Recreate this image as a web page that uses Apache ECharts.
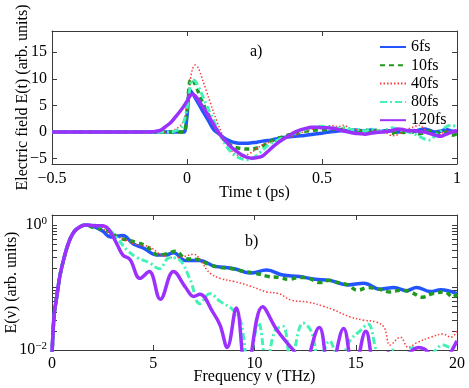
<!DOCTYPE html>
<html>
<head>
<meta charset="utf-8">
<script src="https://cdn.jsdelivr.net/npm/echarts@6/dist/echarts.min.js"></script>
<style>
  html, body { margin: 0; padding: 0; background: #fff; }
  #chart { width: 469px; height: 388px; }
</style>
</head>
<body>
<div id="chart"></div>
<script>
// ---- top panel: E(t), time in ps ----
const timePs = [-0.5, -0.3, -0.15, -0.1, -0.08, -0.06, -0.04, -0.02, -0.01, 0,
  0.01, 0.02, 0.03, 0.04, 0.05, 0.06, 0.08, 0.1, 0.12, 0.14, 0.16, 0.18, 0.2,
  0.22, 0.24, 0.26, 0.28, 0.3, 0.32, 0.34, 0.36, 0.38, 0.4, 0.42, 0.44, 0.46,
  0.48, 0.5, 0.52, 0.54, 0.56, 0.58, 0.6, 0.62, 0.64, 0.66, 0.68, 0.7, 0.72,
  0.74, 0.76, 0.78, 0.8, 0.82, 0.84, 0.86, 0.88, 0.9, 0.92, 0.94, 0.96, 0.98, 1.0];

const field6fs = [0, 0, 0, 0, 0, 0, 0, 0, 0, 3,
  7.9, 7.3, 6.5, 5.6, 4.7, 3.8, 2.1, 0.4, -0.4, -1.2, -1.7, -2.0, -2.1,
  -2.1, -2.0, -1.9, -1.7, -1.6, -1.4, -1.2, -1.0, -0.9, -0.8, -0.7, -0.6, -0.45,
  -0.3, -0.2, -0.05, 0.1, 0.2, 0.3, 0.2, 0.4, 0.3, 0.2, 0.4, 0.3, 0.1,
  0.3, 0.2, 0.0, 0.2, 0.3, 0.1, 0.4, 0.6, 0.3, 0.0, 0.2, 0.5, 0.2, 0.0];

const field10fs = [0, 0, 0, 0, 0, 0, 0, 0, 0, 4,
  9.5, 10.0, 9.0, 7.8, 6.5, 5.3, 3.2, 1.2, -0.4, -1.6, -2.4, -2.9, -3.1,
  -3.2, -3.2, -3.0, -2.6, -2.0, -1.5, -1.1, -0.8, -0.5, -0.3, 0.0, 0.2, 0.3,
  0.4, 0.4, 0.5, 0.6, 0.4, 0.6, 0.3, 0.5, 0.2, 0.4, 0.1, 0.3, 0.0,
  0.2, -0.2, 0.1, -0.1, 0.2, 0.0, -0.3, -0.1, 0.2, 0.0, -0.4, 0.0, -0.6, -0.3];

const field40fs = [0, 0, 0, 0, 0, 0.2, 0.6, 1.5, 2.5, 5,
  9, 11.8, 12.6, 12.2, 11.0, 9.5, 6.5, 3.5, 0.8, -1.5, -3.2, -4.2, -4.5,
  -4.3, -3.8, -3.0, -2.4, -2.0, -1.8, -1.6, -1.3, -1.0, -0.6, -0.2, 0.2, 0.5,
  0.7, 0.9, 1.1, 1.2, 1.0, 1.3, 0.8, 0.5, 0.3, -0.6, -0.3, 0.4, 0.2,
  -0.2, -0.7, -0.5, 0.2, 0.6, 1.0, 1.3, 0.5, -0.3, -0.8, -0.4, 0.2, 0.1, 0.0];

const field80fs = [0, 0, 0, 0, 0, 0, 0.3, 1.0, 2.2, 4.5,
  8, 9.8, 9.6, 8.8, 7.7, 6.5, 4.2, 2.0, -0.3, -2.2, -3.6, -4.5, -5.0,
  -5.2, -5.0, -4.3, -3.4, -2.5, -1.9, -1.4, -1.0, -0.6, -0.2, 0.2, 0.5, 0.8,
  1.0, 1.1, 1.0, 0.8, 0.7, 0.9, 0.6, 0.4, 0.5, 0.2, 0.6, 0.4, 0.1,
  0.5, 0.8, 0.4, 0.3, 0.0, -0.3, -0.8, -1.3, -1.5, -0.6, 0.2, 1.0, 1.3, 0.9];

const field120fs = [0, 0, 0, 0.3, 1.0, 1.8, 3.0, 4.3, 5.0, 5.8,
  6.7, 7.1, 6.8, 6.2, 5.4, 4.6, 3.0, 1.3, -0.3, -1.5, -2.6, -3.5, -4.2,
  -4.7, -4.9, -4.8, -4.5, -3.6, -2.7, -1.9, -1.2, -0.6, 0.0, 0.4, 0.7, 0.9,
  0.9, 0.8, 0.8, 0.7, 0.5, 0.2, 0.0, -0.2, -0.3, -0.4, -0.2, -0.1, 0.0,
  0.1, 0.3, 0.6, 0.5, 0.2, 0.3, 0.1, 0.0, -0.3, -0.6, -0.8, -0.4, 0.0, 0.3];

// ---- bottom panel: |E(nu)|, normalised, log scale ----
const freqRise = [0, 0.1, 0.2, 0.3, 0.4, 0.6, 0.8, 1.0, 1.2, 1.5];
const specRise = [0.008, 0.035, 0.06, 0.1, 0.16, 0.3, 0.5, 0.7, 0.85, 0.98];

const freq6fs = [1.7, 2.1, 2.5, 2.9, 3.5, 4.0, 4.5, 5.2, 5.6, 6.0, 6.6, 7.3, 8.0, 8.5,
  9.0, 9.8, 10.6, 11.4, 12.2, 13.0, 13.7, 14.6, 15.4, 16.2, 16.9, 17.5, 18.0, 18.7, 19.2, 20];
const spec6fs = [1.0, 0.93, 0.8, 0.64, 0.68, 0.5, 0.43, 0.33, 0.33, 0.36, 0.27, 0.27, 0.22, 0.21,
  0.2, 0.17, 0.19, 0.158, 0.15, 0.135, 0.13, 0.11, 0.117, 0.094, 0.1, 0.089, 0.1, 0.086, 0.092, 0.08];

const freq10fs = [1.7, 2.0, 2.5, 2.9, 3.3, 3.7, 4.2, 4.6, 5.3, 5.7, 6.1, 6.6, 7.2, 7.8, 8.3,
  8.9, 9.5, 10.0, 10.7, 11.2, 11.7, 12.2, 12.7, 13.2, 13.7, 14.1, 14.6, 15.1, 15.6, 16.1,
  16.7, 17.2, 17.7, 18.3, 18.8, 19.4, 19.8, 20];
const spec10fs = [1.0, 0.92, 0.85, 0.77, 0.62, 0.58, 0.52, 0.47, 0.33, 0.35, 0.38, 0.29, 0.28, 0.23, 0.21,
  0.2, 0.18, 0.17, 0.15, 0.145, 0.135, 0.145, 0.14, 0.12, 0.13, 0.12, 0.11, 0.09, 0.1, 0.095,
  0.085, 0.09, 0.085, 0.07, 0.08, 0.085, 0.07, 0.08];

const freq40fs = [1.7, 2.2, 2.9, 3.5, 4.2, 4.8, 5.5, 6.2, 7.0, 7.4, 7.8, 8.3, 9.0, 9.8,
  10.6, 11.2, 11.8, 12.7, 13.4, 13.9, 14.7, 15.4, 16.0, 16.4, 16.7, 17.2, 17.6, 18.0,
  18.7, 19.3, 19.7, 20];
const spec40fs = [0.98, 1.0, 0.7, 0.6, 0.48, 0.45, 0.32, 0.3, 0.34, 0.25, 0.17, 0.14, 0.125, 0.105,
  0.085, 0.08, 0.063, 0.058, 0.05, 0.044, 0.034, 0.03, 0.028, 0.023, 0.012, 0.016, 0.011, 0.013,
  0.016, 0.018, 0.016, 0.02];

const freq80fs = [1.7, 2.3, 2.8, 3.2, 3.7, 4.2, 4.8, 5.3, 5.8, 6.2, 6.8, 7.3, 7.8, 8.3,
  8.9, 9.3, 9.7, 10.2, 10.6, 11.0, 11.4, 11.8, 12.4, 12.8, 13.2, 13.7, 14.2, 14.7, 15.2,
  15.6, 16.0, 16.3, 16.8, 17.3, 17.8, 18.3, 18.8, 19.3, 19.7, 20];
const spec80fs = [1.0, 0.97, 0.85, 0.62, 0.4, 0.3, 0.25, 0.2, 0.3, 0.29, 0.14, 0.055, 0.08, 0.06,
  0.045, 0.03, 0.006, 0.027, 0.006, 0.02, 0.024, 0.007, 0.027, 0.02, 0.007, 0.014, 0.006, 0.014, 0.02,
  0.026, 0.01, 0.005, 0.01, 0.006, 0.011, 0.007, 0.009, 0.012, 0.011, 0.011];

const freq120fs = [1.7, 2.0, 2.5, 2.8, 3.2, 3.5, 3.85, 4.35, 4.8, 5.35, 6.0, 6.6, 7.0, 7.3,
  7.95, 8.3, 8.65, 9.1, 9.6, 10.4, 11.1, 11.7, 12.0, 12.3, 13.2, 13.7, 14.4, 14.9, 15.5,
  16.0, 16.6, 17.0, 17.5, 18.1, 18.6, 19.1, 19.6, 20];
const spec120fs = [1.0, 0.98, 0.97, 0.85, 0.5, 0.33, 0.28, 0.14, 0.18, 0.065, 0.18, 0.1, 0.072, 0.078,
  0.04, 0.025, 0.011, 0.047, 0.004, 0.049, 0.021, 0.012, 0.009, 0.004, 0.023, 0.004, 0.022, 0.004, 0.02,
  0.005, 0.009, 0.005, 0.008, 0.011, 0.009, 0.004, 0.008, 0.014];

// ---- axes ----
const fieldTicks = [-5, 0, 5, 10, 15];
const logTickPow = [-2, -1, 0];
const logTickMinor = [2, 3, 4, 5, 6, 7, 8, 9];
const logLabels = [-2, 0];
const specMax = 1.445;

const seriesNames = ['6fs', '10fs', '40fs', '80fs', '120fs'];
const seriesColors = ['#2255ff', '#1f9a1f', '#ff3b3b', '#44f2b8', '#9b30ff'];
const seriesLines = [
  { width: 3.5, type: 'solid' },
  { width: 3.5, type: [5, 4] },
  { width: 1.5, type: [1.5, 2] },
  { width: 3, type: [7, 3, 2, 3] },
  { width: 3.5, type: 'solid' }
];

const axisColor = '#3a3a3a';
const font = '"Liberation Serif", "Times New Roman", serif';

function zip(xs, ys) {
  return xs.map((x, i) => [x, ys[i]]);
}

function minus(v) {
  return v < 0 ? '\u2212' + Math.abs(v) : String(v);
}

// minor ticks of the log axis, expressed as log10 values on the overlay axis
const logTickValues = [];
logTickPow.forEach(p => {
  logTickValues.push(p);
  if (p < 0) logTickMinor.forEach(m => logTickValues.push(p + Math.log10(m)));
});
const logTop = Math.log10(specMax);

const fieldData = [field6fs, field10fs, field40fs, field80fs, field120fs];
const freqData = [freq6fs, freq10fs, freq40fs, freq80fs, freq120fs];
const specData = [spec6fs, spec10fs, spec40fs, spec80fs, spec120fs];

const baseAxis = {
  nameMoveOverlap: false,
  axisLine: { show: true, onZero: false, lineStyle: { color: axisColor, width: 1 } },
  axisTick: { show: true, inside: true, length: 5, lineStyle: { color: axisColor } },
  axisLabel: { color: '#000', fontFamily: font, fontSize: 16 },
  splitLine: { show: false },
  nameTextStyle: { color: '#000', fontFamily: font, fontSize: 16 }
};

function mirror(extra) {
  return Object.assign({}, baseAxis, { axisLabel: { show: false } }, extra);
}

const series = [];
seriesNames.forEach((name, i) => {
  series.push({
    name: name,
    type: 'line',
    xAxisIndex: 0,
    yAxisIndex: 0,
    data: zip(timePs, fieldData[i]),
    showSymbol: false,
    symbol: 'none',
    smooth: 0.3,
    lineStyle: Object.assign({ color: seriesColors[i] }, seriesLines[i]),
    itemStyle: { color: seriesColors[i] }
  });
});
seriesNames.forEach((name, i) => {
  series.push({
    name: name,
    type: 'line',
    xAxisIndex: 2,
    yAxisIndex: 2,
    data: zip(freqRise.concat(freqData[i]), specRise.concat(specData[i])),
    showSymbol: false,
    symbol: 'none',
    smooth: 0.4,
    lineStyle: Object.assign({ color: seriesColors[i] }, seriesLines[i]),
    itemStyle: { color: seriesColors[i] }
  });
});

const chart = echarts.init(document.getElementById('chart'), null, { renderer: 'canvas' });
chart.setOption({
  animation: false,
  backgroundColor: '#fff',
  textStyle: { fontFamily: font },
  grid: [
    { left: 52, top: 31, width: 405, height: 133, outerBoundsMode: 'none' },
    { left: 52, top: 215, width: 405, height: 135, outerBoundsMode: 'none' }
  ],
  legend: {
    orient: 'vertical',
    left: 374,
    top: 34,
    itemWidth: 26,
    itemHeight: 12,
    itemGap: 2.3,
    data: seriesNames,
    itemStyle: { opacity: 0 },
    textStyle: { color: '#000', fontFamily: font, fontSize: 16, lineHeight: 16 }
  },
  xAxis: [
    Object.assign({}, baseAxis, {
      gridIndex: 0, type: 'value', position: 'bottom', min: -0.5, max: 1, interval: 0.5,
      axisLabel: Object.assign({}, baseAxis.axisLabel, { margin: 7, formatter: minus }),
      name: 'Time t (ps)', nameLocation: 'middle', nameGap: 21
    }),
    mirror({ gridIndex: 0, type: 'value', position: 'top', min: -0.5, max: 1, interval: 0.5 }),
    Object.assign({}, baseAxis, {
      gridIndex: 1, type: 'value', position: 'bottom', min: 0, max: 20, interval: 5,
      axisLabel: Object.assign({}, baseAxis.axisLabel, { margin: 6 }),
      name: 'Frequency \u03bd (THz)', nameLocation: 'middle', nameGap: 19
    }),
    mirror({ gridIndex: 1, type: 'value', position: 'top', min: 0, max: 20, interval: 5 })
  ],
  yAxis: [
    Object.assign({}, baseAxis, {
      gridIndex: 0, type: 'value', position: 'left', min: -6, max: 19,
      axisTick: Object.assign({}, baseAxis.axisTick, { customValues: fieldTicks }),
      axisLabel: Object.assign({}, baseAxis.axisLabel, { customValues: fieldTicks, margin: 5, formatter: minus }),
      name: 'Electric field E(t) (arb. units)', nameLocation: 'middle', nameGap: 21
    }),
    mirror({
      gridIndex: 0, type: 'value', position: 'right', min: -6, max: 19,
      axisTick: Object.assign({}, baseAxis.axisTick, { customValues: fieldTicks })
    }),
    // log axis that carries the spectra
    {
      gridIndex: 1, type: 'log', logBase: 10, position: 'left', min: 0.01, max: specMax,
      axisLine: { show: true, lineStyle: { color: axisColor } },
      axisTick: { show: false }, axisLabel: { show: false }, splitLine: { show: false }
    },
    // overlay in log10 units: only ticks and 10^n labels
    Object.assign({}, baseAxis, {
      gridIndex: 1, type: 'value', position: 'left', min: -2, max: logTop,
      axisLine: { show: false },
      axisTick: Object.assign({}, baseAxis.axisTick, { customValues: logTickValues }),
      axisLabel: Object.assign({}, baseAxis.axisLabel, {
        customValues: logLabels, margin: 5,
        formatter: v => '{b|10}{s|' + minus(Math.round(v)) + '}',
        rich: {
          b: { fontFamily: font, fontSize: 16, color: '#000' },
          s: { fontFamily: font, fontSize: 11, color: '#000', verticalAlign: 'top', padding: [0, 0, 8, 0] }
        }
      }),
      name: 'E(\u03bd) (arb. units)', nameLocation: 'middle', nameGap: 32
    }),
    mirror({
      gridIndex: 1, type: 'value', position: 'right', min: -2, max: logTop,
      axisTick: Object.assign({}, baseAxis.axisTick, { customValues: logTickValues })
    })
  ],
  graphic: [
    { type: 'text', left: 250, top: 44, style: { text: 'a)', font: '16px ' + font, fill: '#000' } },
    { type: 'text', left: 245, top: 234, style: { text: 'b)', font: '16px ' + font, fill: '#000' } }
  ],
  series: series
});
</script>
</body>
</html>
